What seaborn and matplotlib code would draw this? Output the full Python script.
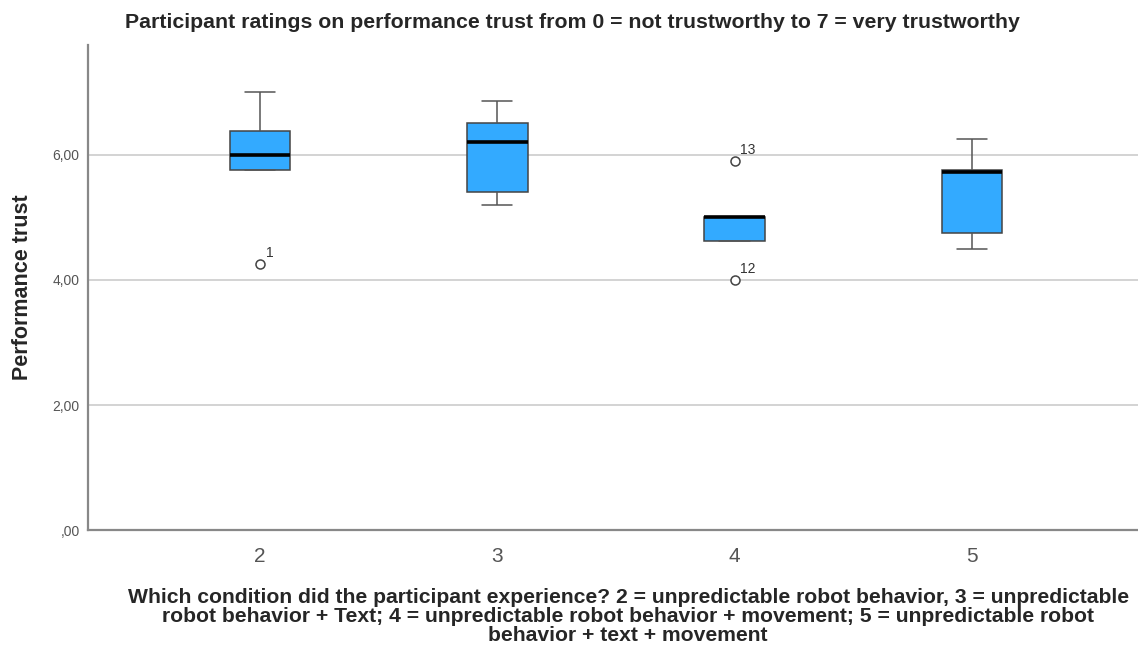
import numpy as np
import pandas as pd
import matplotlib
matplotlib.use("Agg")
import matplotlib.pyplot as plt
from matplotlib.ticker import FuncFormatter
import seaborn as sns

# performance trust ratings per condition
conditions = ["2", "3", "4", "5"]
cond_2 = [4.25, 5.75, 5.75, 5.875, 6.0, 6.25, 6.375, 6.75, 7.0]
cond_3 = [5.2, 5.4, 6.2, 6.5, 6.85]
cond_4 = [4.0, 4.625, 4.625, 4.75, 5.0, 5.0, 5.0, 5.0, 5.9]
cond_5 = [4.5, 4.75, 5.72, 5.75, 6.25]

# case numbers SPSS printed next to the outliers
outlier_cond = ["2", "4", "4"]
outlier_val = [4.25, 5.9, 4.0]
outlier_case = ["1", "13", "12"]

y_ticks = [0, 2, 4, 6]

title = "Participant ratings on performance trust from 0 = not trustworthy to 7 = very trustworthy"
ylab = "Performance trust"
xlab = ("Which condition did the participant experience? 2 = unpredictable robot behavior, 3 = unpredictable\n"
        "robot behavior + Text; 4 = unpredictable robot behavior + movement; 5 = unpredictable robot\n"
        "behavior + text + movement")

df = pd.DataFrame({
    "Condition": ["2"] * len(cond_2) + ["3"] * len(cond_3) + ["4"] * len(cond_4) + ["5"] * len(cond_5),
    "Performance trust": cond_2 + cond_3 + cond_4 + cond_5,
})

sns.set_style("white")
plt.rcParams["font.family"] = ["Liberation Sans", "DejaVu Sans"]

fig = plt.figure(figsize=(11.38, 6.53), dpi=100)
ax = fig.add_axes([0.0773, 0.188, 0.9227, 0.743])

sns.boxplot(data=df, x="Condition", y="Performance trust", order=conditions, ax=ax,
            color="#33aaff", saturation=1, width=0.255, linecolor="#444444", linewidth=1.1,
            medianprops=dict(color="black", linewidth=2.6),
            whiskerprops=dict(color="#555555", linewidth=1.1),
            capprops=dict(color="#555555", linewidth=1.1),
            flierprops=dict(marker="o", markersize=6.5, markerfacecolor="white",
                            markeredgecolor="#444444", markeredgewidth=1.1))

for c, v, lab in zip(outlier_cond, outlier_val, outlier_case):
    ax.annotate(lab, xy=(conditions.index(c), v), xytext=(4, 3), textcoords="offset points",
                ha="left", va="bottom", fontsize=10, color="#333333")

ax.set_xlim(-0.725, 3.70)
ax.set_ylim(0, 7.75)
ax.set_yticks(y_ticks)
ax.yaxis.set_major_formatter(FuncFormatter(lambda v, p: ("%.2f" % v).replace(".", ",").lstrip("0")))
ax.yaxis.grid(True, color="#cccccc", linewidth=1.2)
ax.set_axisbelow(True)
ax.tick_params(axis="y", length=0, pad=6, labelsize=10, labelcolor="#555555")
ax.tick_params(axis="x", length=0, pad=12, labelsize=15, labelcolor="#555555")

for s in ["top", "right"]:
    ax.spines[s].set_visible(False)
for s in ["left", "bottom"]:
    ax.spines[s].set_color("#888888")
    ax.spines[s].set_linewidth(1.6)

ax.set_ylabel(ylab, fontsize=15.5, fontweight="bold", labelpad=14)
ax.set_xlabel("")
fig.text(0.552, 0.012, xlab, ha="center", va="bottom", fontsize=15.2, fontweight="bold",
         linespacing=1.0)
fig.suptitle(title, x=0.503, y=0.966, va="center", fontsize=15.3, fontweight="bold")

fig.savefig("out.png", dpi=100)
